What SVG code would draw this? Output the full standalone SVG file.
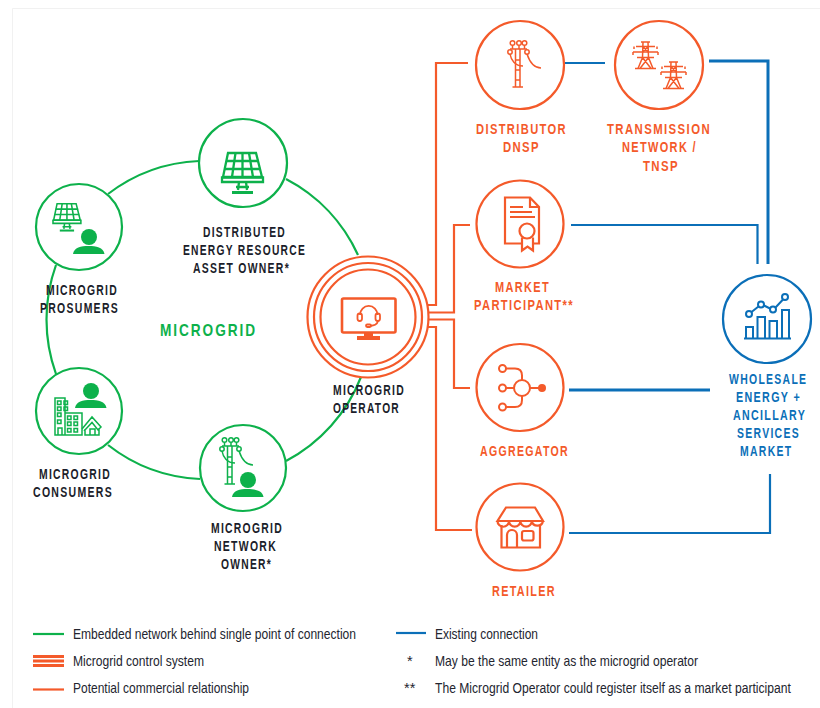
<svg xmlns="http://www.w3.org/2000/svg" width="820" height="708" viewBox="0 0 820 708">
<style>
.g{fill:none;stroke:#0db14b;stroke-width:2.2}
.o{fill:none;stroke:#f45a2a;stroke-width:2.2}
.b{fill:none;stroke:#0b6fb8;stroke-width:2.2}
.c{fill:none;stroke:#0b6fb8;stroke-width:3}
.r{fill:#fff}
.l{font:bold 14.500px "Liberation Sans",Arial,sans-serif;letter-spacing:1.800px}
.k{fill:#1b1d2a}
.to{fill:#f45a2a}
.tb{fill:#0b6fb8}
.tg{fill:#0db14b}
.t{font:14.500px "Liberation Sans",Arial,sans-serif;fill:#23252f}
</style>
<defs>
<g id="panel" fill="none" stroke="#0db14b" stroke-width="2.300">
<path d="M6,1H34L40,25H1Z"/><path d="M0,25.500H41V30H0Z"/><path d="M13.500,1L10,25M20.500,1V25M27,1L31,25M4,9H37M2.500,17H38.500"/>
<path d="M17,30L16,38M24,30L25,38M14,35H27"/><path d="M10,40.500H31" stroke-width="3"/>
</g>
<g id="person" fill="#0db14b"><circle r="8"/><path d="M-16,17C-15,10.500-8,9-0.500,9C7,9 14.500,10.500 15.500,17Z"/></g>
<g id="pole" fill="none" stroke-width="1.500">
<path d="M6.500,9V47M11,9V47M6.500,20H11M6.500,30H11M6.500,40H11M3.500,47H14"/>
<circle cx="3.500" cy="3" r="2.300"/><circle cx="10" cy="3" r="2.300"/><circle cx="15.500" cy="3" r="2.300"/>
<circle cx="1" cy="12" r="2.200"/><circle cx="18" cy="12" r="2.200"/>
<path d="M3.500,5.500V9M10,5.500V9M15.500,5.500V9M1,9H18"/>
<path d="M1,14C2,20 6,26 14,26M18,14C20,20 24,28 32,28"/>
</g>
<g id="pylon" fill="none" stroke="#f45a2a" stroke-width="1.500">
<path d="M8,1H17M3,5.500H22M0,11H25M4,16.500H21M2,27.500H23"/>
<path d="M10,1L9.500,16.500L5,27.500M15,1L15.500,16.500L20,27.500M9.500,16.500L18,27.500M15.500,16.500L7,27.500M1,5.500V8M24,5.500V8M0,11V14M25,11V14M10,5.500L15,11M15,5.500L10,11"/>
</g>
</defs>
<path d="M12.500,708V8.500H820" fill="none" stroke="#f1f1f1"/>
<g id="connectors">
<g id="green-ring">
<path class="g" d="M108,194A161,161 0 0 1 199,161"/>
<path class="g" d="M286,179A161,161 0 0 1 358,255"/>
<path class="g" d="M56,265A161,161 0 0 0 56,374"/>
<path class="g" d="M108,445A161,161 0 0 0 200,479"/>
<path class="g" d="M286,461A161,161 0 0 0 361,377"/>
</g>
<g id="orange-links">
<path class="o" d="M427,305H436V63H468"/>
<path class="o" d="M428,312.500H454V225H470"/>
<path class="o" d="M428,319.500H454V388H470"/>
<path class="o" d="M427,327H436V530H472"/>
</g>
<g id="blue-links">
<path class="b" d="M565,63H605"/>
<path class="c" d="M709,61H768V264"/>
<path class="b" d="M571,225H757.500V264"/>
<path class="c" d="M569,390H710"/>
<path class="b" d="M569,533H770V474"/>
</g>
</g>
<g id="der-owner">
<circle class="g r" cx="243" cy="163" r="44"/>
<use href="#panel" x="222" y="152"/>
<text class="l k" x="203" y="237" textLength="83" lengthAdjust="spacingAndGlyphs">DISTRIBUTED</text>
<text class="l k" x="183" y="255" textLength="123" lengthAdjust="spacingAndGlyphs">ENERGY RESOURCE</text>
<text class="l k" x="193" y="273" textLength="97" lengthAdjust="spacingAndGlyphs">ASSET OWNER*</text>
</g>
<g id="prosumers">
<circle class="g r" cx="79" cy="227" r="43"/>
<use href="#panel" transform="translate(53,203) scale(.68)"/>
<use href="#person" x="89" y="237"/>
<text class="l k" x="46" y="295" textLength="72" lengthAdjust="spacingAndGlyphs">MICROGRID</text>
<text class="l k" x="40" y="313" textLength="79" lengthAdjust="spacingAndGlyphs">PROSUMERS</text>
</g>
<g id="consumers">
<circle class="g r" cx="79" cy="411" r="43"/>
<use href="#person" x="91" y="391"/>
<g fill="none" stroke="#0db14b" stroke-width="1.500">
<path d="M65,413V398H55V435H82V413H65M65,413V435"/>
<path d="M58,435V428H62V435"/>
<path d="M57.500,401h3.500v3.500h-3.500zM64,401h3.500v3.500h-3.500zM57.500,407h3.500v3.500h-3.500zM64,407h3.500v3.500h-3.500zM57.500,413h3.500v3.500h-3.500zM57.500,420h3.500v3.500h-3.500zM67.500,416h3.500v3.500h-3.500zM74,416h3.500v3.500h-3.500zM67.500,422h3.500v3.500h-3.500zM74,422h3.500v3.500h-3.500zM67.500,428.500h3.500v3.500h-3.500zM74,428.500h3.500v3.500h-3.500z"/>
<path d="M82,429L92,417L101,427L98,430L92,422.500L84,431M85,429V435H99V428M90,435V429H95V435"/>
</g>
<text class="l k" x="39" y="479" textLength="72" lengthAdjust="spacingAndGlyphs">MICROGRID</text>
<text class="l k" x="33" y="497" textLength="80" lengthAdjust="spacingAndGlyphs">CONSUMERS</text>
</g>
<g id="network-owner">
<circle class="g r" cx="243" cy="468" r="43"/>
<use href="#pole" x="221" y="437" stroke="#0db14b"/>
<use href="#person" x="248" y="480"/>
<text class="l k" x="211" y="533" textLength="72" lengthAdjust="spacingAndGlyphs">MICROGRID</text>
<text class="l k" x="214" y="551" textLength="63" lengthAdjust="spacingAndGlyphs">NETWORK</text>
<text class="l k" x="221" y="569" textLength="51" lengthAdjust="spacingAndGlyphs">OWNER*</text>
</g>
<text id="microgrid-label" x="160" y="336" textLength="97" lengthAdjust="spacingAndGlyphs" class="tg" style="font:bold 17px 'Liberation Sans',Arial,sans-serif;letter-spacing:2.400px">MICROGRID</text>
<g id="operator">
<circle class="o r" cx="368" cy="317" r="60.500"/>
<circle class="o" cx="368" cy="317" r="54"/>
<circle class="o" cx="368" cy="317" r="47.500"/>
<rect class="o" x="342" y="298.500" width="53.500" height="34" rx="1.500" style="stroke-width:2.600"/>
<path fill="#f45a2a" d="M364,333H373V336H380V340H357V336H364Z"/>
<path class="o" d="M360,315A8.700,9 0 0 1 377.500,315" style="stroke-width:1.800"/>
<rect class="o" x="357.500" y="313.500" width="4.500" height="7.500" rx="2.200" style="stroke-width:1.800"/>
<rect class="o" x="375.500" y="313.500" width="4.500" height="7.500" rx="2.200" style="stroke-width:1.800"/>
<path class="o" d="M378,321C377,325 374,325.500 370,326" style="stroke-width:1.800"/>
<rect class="o" x="366" y="324.500" width="5" height="2.500" rx="1.200" style="stroke-width:1.800"/>
<text class="l k" x="333" y="395" textLength="72" lengthAdjust="spacingAndGlyphs">MICROGRID</text>
<text class="l k" x="333" y="413" textLength="67" lengthAdjust="spacingAndGlyphs">OPERATOR</text>
</g>
<g id="distributor">
<circle class="o" cx="520" cy="65" r="44"/>
<use href="#pole" x="509" y="40" stroke="#f45a2a"/>
<text class="l to" x="476" y="134" textLength="91" lengthAdjust="spacingAndGlyphs">DISTRIBUTOR</text>
<text class="l to" x="503" y="152" textLength="37" lengthAdjust="spacingAndGlyphs">DNSP</text>
</g>
<g id="transmission">
<circle class="o" cx="659" cy="65" r="44"/>
<use href="#pylon" x="633" y="41"/>
<use href="#pylon" x="661" y="61"/>
<text class="l to" x="607" y="134" textLength="104" lengthAdjust="spacingAndGlyphs">TRANSMISSION</text>
<text class="l to" x="622" y="152" textLength="75" lengthAdjust="spacingAndGlyphs">NETWORK /</text>
<text class="l to" x="643" y="171" textLength="36" lengthAdjust="spacingAndGlyphs">TNSP</text>
</g>
<g id="market-participant">
<circle class="o" cx="520" cy="224" r="43.500"/>
<g class="o" style="stroke-width:2.200">
<path d="M521,243.500H505V197.500H530L539,207V243.500H534M530,197.500V207H539"/>
<path d="M510,207H523M510,212H532M510,217H535"/>
<circle cx="527" cy="231" r="7.500"/>
<path d="M522,237.500V250.500L527.500,246.500L533,250.500V237.500"/>
</g>
<text class="l to" x="495" y="292" textLength="55" lengthAdjust="spacingAndGlyphs">MARKET</text>
<text class="l to" x="474" y="310" textLength="100" lengthAdjust="spacingAndGlyphs">PARTICIPANT**</text>
</g>
<g id="aggregator">
<circle class="o" cx="520" cy="387.500" r="43.500"/>
<g class="o" style="stroke-width:2">
<circle cx="522" cy="388" r="8"/><circle cx="502.500" cy="368.500" r="3.500"/><circle cx="502.500" cy="388" r="3.500"/><circle cx="502.500" cy="407" r="3.500"/>
<path d="M506,368.500H515Q522,368.500 522,375.500V380M506,388H514M506,407H515Q522,407 522,400V396M530,388H542"/>
</g>
<circle cx="542" cy="388" r="4" fill="#f45a2a"/>
<text class="l to" x="480" y="456" textLength="89" lengthAdjust="spacingAndGlyphs">AGGREGATOR</text>
</g>
<g id="retailer">
<circle class="o" cx="520" cy="527" r="43.500"/>
<g class="o" style="stroke-width:2.200">
<path d="M506,507.500H535L543,521H497.500Z"/>
<path d="M497.500,521A5.700,5.700 0 0 0 509,521A5.700,5.700 0 0 0 520.400,521A5.700,5.700 0 0 0 531.800,521A5.700,5.700 0 0 0 543,521"/>
<path d="M501.500,525V547.500H540V525"/>
<path d="M507,547.500V535A5,5 0 0 1 517,535V547.500"/>
<rect x="522" y="531" width="11.500" height="9.500" rx="2"/>
</g>
<text class="l to" x="492" y="596" textLength="64" lengthAdjust="spacingAndGlyphs">RETAILER</text>
</g>
<g id="wholesale">
<circle class="b" cx="767" cy="319" r="44"/>
<g class="b" style="stroke-width:2">
<path d="M744,338.500H791"/>
<path d="M746,338V327H753V338M757.500,338V317H765V338M769.500,338V321H777V338M782,338V310H789V338"/>
<circle cx="749" cy="314" r="3"/><circle cx="761" cy="304.500" r="3"/><circle cx="773" cy="309.500" r="3"/><circle cx="785" cy="297" r="3"/>
<path d="M751.500,312L758.500,306.500M764,305.500L770,308.500M775.500,307.500L783,299.500"/>
</g>
<text class="l tb" transform="translate(729,384) scale(.72,1)">WHOLESALE</text>
<text class="l tb" transform="translate(736,402) scale(.74,1)">ENERGY +</text>
<text class="l tb" transform="translate(733,420) scale(.735,1)">ANCILLARY</text>
<text class="l tb" transform="translate(737,438) scale(.72,1)">SERVICES</text>
<text class="l tb" transform="translate(740,456) scale(.72,1)">MARKET</text>
</g>
<g id="legend">
<path class="g" d="M33,634H64"/>
<path class="o" d="M33,656.500H64M33,661H64M33,665.500H64" style="stroke-width:2.800"/>
<path class="o" d="M33,689.500H64"/>
<path class="b" d="M396,633H426"/>
<text class="t" x="73" y="638.500" textLength="283" lengthAdjust="spacingAndGlyphs">Embedded network behind single point of connection</text>
<text class="t" x="73" y="665.500" textLength="131" lengthAdjust="spacingAndGlyphs">Microgrid control system</text>
<text class="t" x="73" y="693" textLength="176" lengthAdjust="spacingAndGlyphs">Potential commercial relationship</text>
<text class="t" x="435" y="638.500" textLength="103" lengthAdjust="spacingAndGlyphs">Existing connection</text>
<text class="t" x="407" y="665.500">*</text>
<text class="t" x="435" y="665.500" textLength="263" lengthAdjust="spacingAndGlyphs">May be the same entity as the microgrid operator</text>
<text class="t" x="404" y="693">**</text>
<text class="t" transform="translate(435,693) scale(.837,1)">The Microgrid Operator could register itself as a market participant</text>
</g>
</svg>
